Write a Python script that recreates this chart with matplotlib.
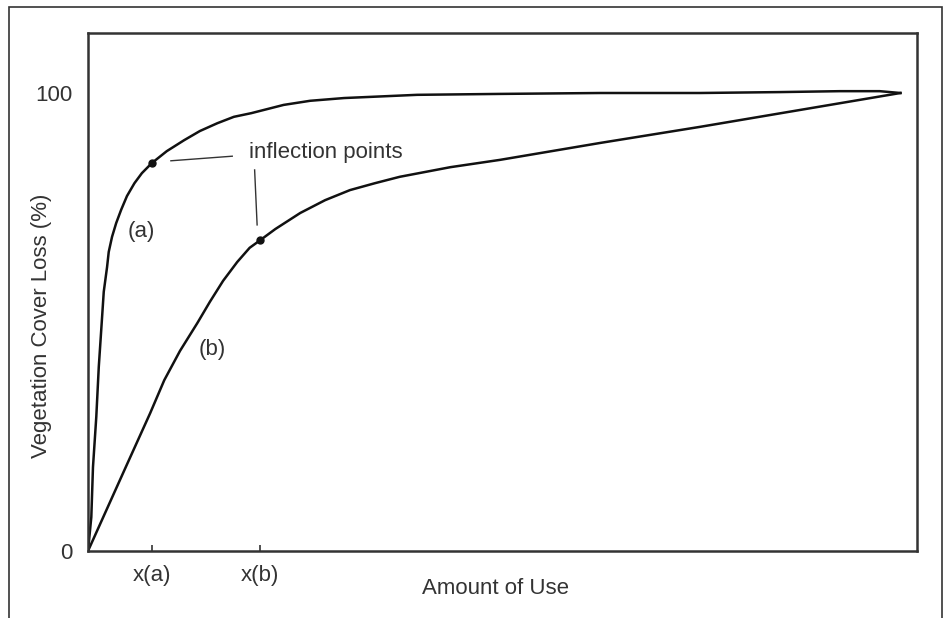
import numpy as np
import matplotlib
matplotlib.use("Agg")
import matplotlib.pyplot as plt
from matplotlib.patches import Rectangle

plt.rcParams['font.family'] = ['Liberation Sans', 'DejaVu Sans']

# curve (a): fast loss of cover
a_x = [0, 0.4, 0.6, 1.0, 1.3, 1.7, 1.9, 2.3, 2.5, 2.9, 3.4, 4.0, 4.7, 5.6, 6.5, 7.7,
       9.5, 11.6, 13.5, 15.6, 17.6, 19.7, 23.6, 26.8, 30.9, 39.7, 49.7, 61.8, 73.8,
       83.5, 90.7, 95.5, 98.0]
a_y = [0, 7.4, 18.3, 29.3, 40.2, 51.1, 56.6, 62.0, 65.3, 68.6, 71.6, 74.5, 77.5, 80.3,
       82.5, 84.7, 87.3, 89.7, 91.7, 93.4, 94.8, 95.6, 97.4, 98.3, 98.9, 99.6, 99.8,
       100.0, 100.0, 100.2, 100.4, 100.4, 100.0]

# curve (b): slower loss of cover
b_x = [0, 4.5, 7.5, 9.2, 11.1, 13.2, 14.7, 16.3, 18.0, 19.5, 20.8, 22.6, 25.6, 28.6,
       31.6, 34.6, 37.6, 43.7, 49.7, 61.8, 73.8, 85.9, 98.0]
b_y = [0, 18.1, 30.1, 37.3, 43.7, 49.8, 54.4, 59.0, 63.1, 66.2, 67.9, 70.3, 73.8, 76.6,
       78.8, 80.3, 81.7, 83.8, 85.4, 89.1, 92.6, 96.3, 100.0]

# inflection points
infl_x = [7.7, 20.8]
infl_y = [84.7, 67.9]

xtick_pos = [7.7, 20.8]
xtick_labels = ['x(a)', 'x(b)']
ytick_pos = [0, 100]
ytick_labels = ['0', '100']

txt = '#333333'

fig = plt.figure(figsize=(9.45, 6.18), dpi=100)
ax = fig.add_axes([88/945, 1 - 551/618, (917-88)/945, (551-33)/618])

ax.plot(a_x, a_y, color='#111111', lw=1.8, solid_joinstyle='round')
ax.plot(b_x, b_y, color='#111111', lw=1.8, solid_joinstyle='round')
ax.plot(infl_x, infl_y, 'o', color='#111111', ms=5)

# leader lines + labels
ax.plot([10.0, 17.4], [85.2, 86.2], color='#333333', lw=1)
ax.plot([20.1, 20.4], [83.2, 71.2], color='#333333', lw=1)
ax.text(19.4, 86.9, 'inflection points', fontsize=16, color=txt, va='center', ha='left')
ax.text(6.4, 69.7, '(a)', fontsize=16, color=txt, va='center', ha='center')
ax.text(15.0, 43.9, '(b)', fontsize=16, color=txt, va='center', ha='center')

ax.set_xlim(0, 100)
ax.set_ylim(0, 113.1)
ax.set_xticks(xtick_pos)
ax.set_xticklabels(xtick_labels)
ax.set_yticks(ytick_pos)
ax.set_yticklabels(ytick_labels)
ax.tick_params(axis='x', direction='in', length=4, width=1.2, color='#333333',
               pad=10, labelsize=16, labelcolor=txt)
ax.tick_params(axis='y', length=0, pad=11, labelsize=16, labelcolor=txt)
for s in ax.spines.values():
    s.set_color('#333333')
    s.set_linewidth(1.8)

fig.text(496/945, 1 - 588/618, 'Amount of Use', fontsize=16, color=txt,
         ha='center', va='center')
fig.text(42/945, 1 - 326/618, 'Vegetation Cover Loss (%)', fontsize=16, color=txt,
         ha='center', va='center', rotation=90)

# outer frame (bottom edge falls outside the picture)
fig.patches.append(Rectangle((9/945, -0.05), (942-9)/945, 1 - 7/618 + 0.05,
                             transform=fig.transFigure, fill=False,
                             edgecolor='#333333', lw=1.2, clip_on=False))

fig.savefig('out.png', dpi=100)
